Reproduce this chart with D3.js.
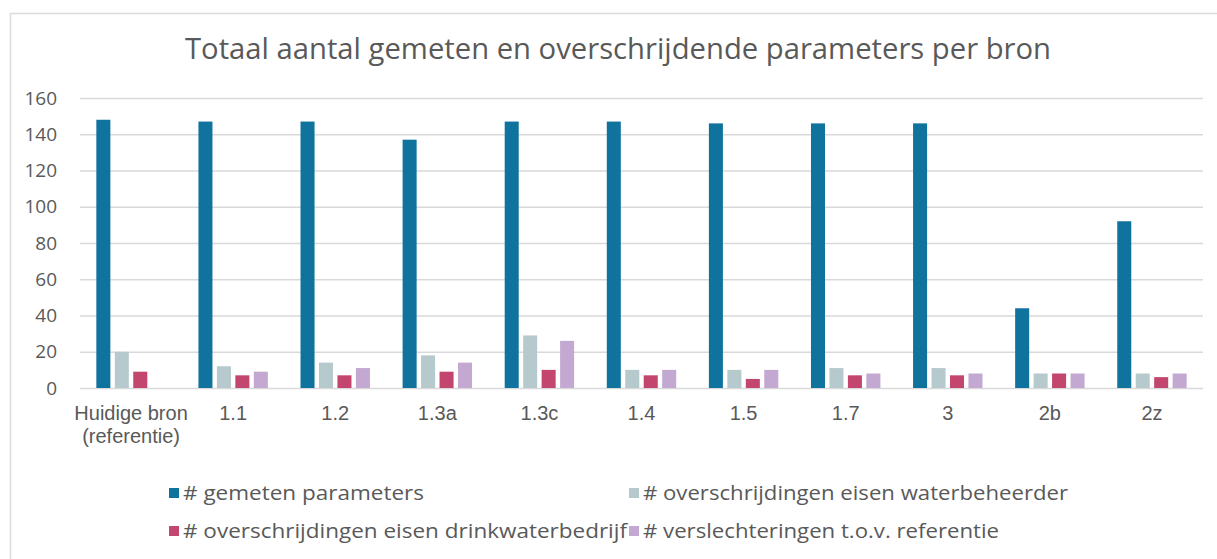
<!DOCTYPE html>
<html>
<head>
<meta charset="utf-8">
<script src="https://cdn.jsdelivr.net/npm/d3@7"></script>
<style>
  html, body { margin: 0; padding: 0; background: #ffffff; }
  svg { display: block; font-family: "Open Sans", "Noto Sans", sans-serif; }
</style>
</head>
<body>
<svg id="chart" width="1217" height="559"></svg>
<script>
// Sources (bronnen) on the category axis
const categories = ["Huidige bron\n(referentie)", "1.1", "1.2", "1.3a", "1.3c", "1.4", "1.5", "1.7", "3", "2b", "2z"];

// Series names, in legend order
const seriesNames = [
  "# gemeten parameters",
  "# overschrijdingen eisen waterbeheerder",
  "# overschrijdingen eisen drinkwaterbedrijf",
  "# verslechteringen t.o.v. referentie"
];

// Values per series, one per source
const gemeten          = [148, 147, 147, 137, 147, 147, 146, 146, 146, 44, 92];
const overWaterbeheer  = [20, 12, 14, 18, 29, 10, 10, 11, 11, 8, 8];
const overDrinkwater   = [9, 7, 7, 9, 10, 7, 5, 7, 7, 8, 6];
const verslechteringen = [0, 9, 11, 14, 26, 10, 10, 8, 8, 8, 8];

// Value axis ticks
const yTicks = [0, 20, 40, 60, 80, 100, 120, 140, 160];

const seriesValues = [gemeten, overWaterbeheer, overDrinkwater, verslechteringen];
const colors = ["#10739e", "#b6c9cd", "#c2466e", "#c3a8d1"];

const svg = d3.select("#chart");

// Chart frame
svg.append("path")
  .attr("d", "M10.5,559 L10.5,13.5 L1217,13.5")
  .attr("fill", "none")
  .attr("stroke", "#dcdcdc")
  .attr("stroke-width", 1.5);

// Title (condensed to fit the header width)
svg.append("text")
  .attr("x", 618)
  .attr("y", 59)
  .attr("text-anchor", "middle")
  .attr("font-size", 29)
  .attr("fill", "#595959")
  .attr("textLength", 866)
  .attr("lengthAdjust", "spacingAndGlyphs")
  .text("Totaal aantal gemeten en overschrijdende parameters per bron");

const x = d3.scaleBand().domain(categories).range([80, 1203]).padding(0);
const xSub = d3.scaleBand().domain(d3.range(seriesNames.length))
  .range([x.bandwidth() * 0.16, x.bandwidth() * 0.84]).paddingInner(0.24);
const y = d3.scaleLinear().domain([0, 160]).range([388, 98]);

// Gridlines + value labels
const yAxis = d3.axisLeft(y).tickValues(yTicks).tickSize(-(1203 - 80)).tickPadding(23);
const gy = svg.append("g").attr("transform", "translate(80,0)").call(yAxis);
gy.select(".domain").remove();
gy.selectAll(".tick line").attr("stroke", "#d9d9d9").attr("stroke-width", 1.5);
gy.selectAll(".tick text")
  .attr("font-size", 19)
  .attr("fill", "#595959")
  .attr("font-family", "Open Sans, sans-serif");

// Bars
const groups = svg.append("g").selectAll("g")
  .data(categories)
  .join("g")
  .attr("transform", d => `translate(${x(d)},0)`);

groups.selectAll("rect")
  .data((c, i) => seriesValues.map((vals, s) => ({ s, v: vals[i] })))
  .join("rect")
  .attr("x", d => xSub(d.s))
  .attr("width", xSub.bandwidth())
  .attr("y", d => y(d.v))
  .attr("height", d => y(0) - y(d.v))
  .attr("fill", d => colors[d.s]);

// Category labels (two-line label for the reference source)
const xAxis = d3.axisBottom(x).tickSize(0).tickPadding(0);
const gx = svg.append("g").attr("transform", "translate(0,388)").call(xAxis);
gx.select(".domain").remove();
gx.selectAll(".tick text").remove();
gx.selectAll(".tick").each(function(d) {
  const lines = d.split("\n");
  const t = d3.select(this).append("text")
    .attr("text-anchor", "middle")
    .attr("font-size", 20)
    .attr("fill", "#595959");
  lines.forEach((ln, k) => {
    t.append("tspan").attr("x", 0).attr("y", 32 + k * 23).text(ln);
  });
});

// Legend, two rows of two entries
const legendPos = [[169, 493], [629, 493], [169, 531], [629, 531]];
const legendWidths = [241, 425, 444, 356];
const legend = svg.append("g").selectAll("g")
  .data(seriesNames)
  .join("g")
  .attr("transform", (d, i) => `translate(${legendPos[i][0]},${legendPos[i][1]})`);
legend.append("rect")
  .attr("x", 0).attr("y", -5).attr("width", 10).attr("height", 10)
  .attr("fill", (d, i) => colors[i]);
legend.append("text")
  .attr("x", 14).attr("y", 7)
  .attr("font-size", 20)
  .attr("fill", "#595959")
  .attr("textLength", (d, i) => legendWidths[i])
  .attr("lengthAdjust", "spacingAndGlyphs")
  .text(d => d);
</script>
</body>
</html>
